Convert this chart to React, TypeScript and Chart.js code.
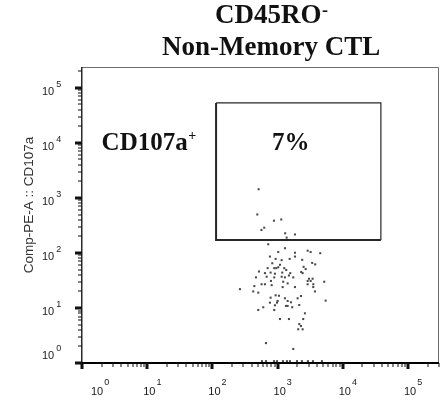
import React, { useEffect, useRef } from "react";
import { Chart, registerables } from "chart.js";
Chart.register(...registerables);

// ---- texts ----
const titleLines = ["CD45RO", "Non-Memory CTL"];
const titleSup = "-";
const yAxisTitle = "Comp-PE-A :: CD107a";
const gateName = "CD107a";
const gateNameSup = "+";
const gatePercent = "7%";

// ---- axes (log10 decades) ----
const tickExponents = [0, 1, 2, 3, 4, 5];
const minorMultipliers = [2, 3, 4, 5, 6, 7, 8, 9];
const xMin = 1;
const xMax = 300000;
const yMin = 1;
const yMax = 240000;

// ---- gate (CD45RO x, CD107a y) ----
const gateX = [114, 38500, 38500, 114, 114];
const gateY = [53300, 53300, 172, 172, 53300];

// annotation anchors in data units
const gateNameAt = { x: 2, y: 7500 };
const gatePercentAt = { x: 1600, y: 7500 };

// ---- events inside the CD107a+ gate ----
const posX = [513, 489, 881, 1140, 625, 566, 1310, 1850, 1380];
const posY = [1440, 501, 386, 406, 288, 262, 228, 217, 190];

// ---- events below the gate ----
const negX = [
  719, 1300, 1025, 1850, 2900, 3220, 4520, 764, 1850, 935,
  1156, 1535, 2390, 830, 1089, 3400, 3780, 705, 890, 955,
  1025, 1268, 1359, 2512, 2700, 519, 641, 783, 912, 1180,
  1567, 2307, 2427, 467, 681, 890, 1156, 1297, 1496, 1742,
  3033, 3451, 265, 440, 570, 641, 813, 792, 1222, 1197,
  1429, 1849, 2897, 3220, 2897, 3532, 3532, 5200, 424, 506,
  935, 1050, 783, 1297, 2286, 2032, 3750, 1004, 979, 1429,
  1607, 764, 912, 1346, 1429, 1679, 2153, 5470, 604, 506,
  890, 2630, 1089, 1496, 2477, 2153, 2286, 2075, 2427, 664,
  1742,
];
const negY = [
  144, 122, 104, 101, 110, 104, 99, 86, 86, 78,
  74, 78, 75, 65, 61, 66, 62, 53, 53, 53,
  55, 53, 49, 56, 51, 46, 43, 44, 42, 44,
  43, 45, 43, 36, 37, 36, 37, 36, 39, 36,
  34, 34, 22, 25, 27, 27, 26, 31, 30, 24,
  28, 24, 31, 31, 27, 27, 24, 30, 20, 19,
  17, 16.7, 15.4, 15, 16.5, 15, 20, 13.4, 12.5, 13.4,
  12.7, 12.5, 11.2, 10.9, 10.9, 10.3, 11.3, 13.6, 10.3, 9.2,
  9.2, 8.0, 6.3, 6.3, 6.3, 5.1, 4.7, 4.1, 4.1, 2.3,
  1.8,
];

// ---- events piled on the baseline ----
const baseX = [577, 664, 881, 979, 1210, 1393, 1549, 1986, 2366, 2926, 3491, 4797];
const baseY = [1.08, 1.08, 1.08, 1.08, 1.08, 1.08, 1.08, 1.08, 1.08, 1.08, 1.08, 1.08];

const pts = (xs: number[], ys: number[]) => xs.map((x, i) => ({ x, y: ys[i] }));

const SERIF = '"Liberation Serif", "Times New Roman", serif';
const SANS = '"Liberation Sans", Arial, sans-serif';

const decorPlugin = {
  id: "flowDecor",
  afterDraw(chart: any) {
    const { ctx, chartArea: a, scales } = chart;
    const xs = scales.x;
    const ys = scales.y;
    ctx.save();

    // frame
    ctx.strokeStyle = "#6e6e6e";
    ctx.lineWidth = 1;
    ctx.beginPath();
    ctx.moveTo(a.right - 0.5, a.bottom);
    ctx.lineTo(a.right - 0.5, a.top + 0.5);
    ctx.lineTo(a.left, a.top + 0.5);
    ctx.stroke();
    ctx.fillStyle = "#2a2a2a";
    ctx.fillRect(a.left - 1, a.top, 1.5, a.bottom - a.top);
    ctx.fillStyle = "#000";
    ctx.fillRect(a.left - 1, a.bottom - 1, a.right - a.left + 1, 2);

    // ticks
    ctx.fillStyle = "#111";
    for (const e of tickExponents) {
      const mults = [1, ...minorMultipliers];
      for (const m of mults) {
        const v = m * Math.pow(10, e);
        const major = m === 1;
        if (v >= xMin && v <= xMax) {
          const px = Math.round(xs.getPixelForValue(v));
          if (major) ctx.fillRect(px - 1.5, a.bottom, 3, 6);
          else ctx.fillRect(px - 0.5, a.bottom, 1, 4);
        }
        if (v >= yMin && v <= yMax) {
          const py = Math.round(ys.getPixelForValue(v));
          if (major) ctx.fillRect(a.left - 7, py - 1.5, 7, 3);
          else ctx.fillRect(a.left - 4, py - 0.5, 4, 1);
        }
      }
    }

    // tick labels
    ctx.fillStyle = "#1a1a1a";
    ctx.textAlign = "left";
    ctx.textBaseline = "alphabetic";
    const baseFont = "11px " + SANS;
    const supFont = "9px " + SANS;
    ctx.font = baseFont;
    const w10 = ctx.measureText("10").width;
    for (const e of tickExponents) {
      const px = xs.getPixelForValue(Math.pow(10, e));
      const sx = Math.max(px - 4, a.left + 9);
      ctx.font = baseFont;
      ctx.fillText("10", sx, a.bottom + 32);
      ctx.font = supFont;
      ctx.fillText(String(e), sx + w10 + 1, a.bottom + 22);

      const py = ys.getPixelForValue(Math.pow(10, e));
      const by = Math.min(py + 7, a.bottom - 4);
      ctx.font = baseFont;
      ctx.fillText("10", 42, by);
      ctx.font = supFont;
      ctx.fillText(String(e), 42 + w10 + 2, by - 8);
    }

    // y axis title
    ctx.save();
    ctx.translate(29, (a.top + a.bottom) / 2 - 10);
    ctx.rotate(-Math.PI / 2);
    ctx.textAlign = "center";
    ctx.textBaseline = "middle";
    ctx.font = "13.5px " + SANS;
    ctx.fillStyle = "#333";
    ctx.fillText(yAxisTitle, 0, 0);
    ctx.restore();

    // title
    ctx.fillStyle = "#111";
    const cx = a.left + (a.right - a.left) * 0.53;
    ctx.font = "bold 27px " + SERIF;
    const w1 = ctx.measureText(titleLines[0]).width;
    ctx.font = "bold 18px " + SERIF;
    const ws = ctx.measureText(titleSup).width;
    const sx1 = cx - (w1 + ws) / 2;
    ctx.font = "bold 27px " + SERIF;
    ctx.textAlign = "left";
    ctx.fillText(titleLines[0], sx1, 23);
    ctx.font = "bold 18px " + SERIF;
    ctx.fillText(titleSup, sx1 + w1 + 0.5, 16);
    ctx.font = "bold 27px " + SERIF;
    ctx.textAlign = "center";
    ctx.fillText(titleLines[1], cx, 55);

    // gate annotations
    ctx.font = "bold 25px " + SERIF;
    ctx.textAlign = "left";
    const gx = xs.getPixelForValue(gateNameAt.x);
    const gy = ys.getPixelForValue(gateNameAt.y);
    ctx.fillText(gateName, gx, gy);
    const wg = ctx.measureText(gateName).width;
    ctx.font = "bold 14px " + SERIF;
    ctx.fillText(gateNameSup, gx + wg + 0.5, gy - 10);
    ctx.font = "bold 25px " + SERIF;
    ctx.textAlign = "center";
    ctx.fillText(gatePercent, xs.getPixelForValue(gatePercentAt.x), ys.getPixelForValue(gatePercentAt.y));

    ctx.restore();
  },
};

export default function App() {
  const ref = useRef<HTMLCanvasElement | null>(null);
  useEffect(() => {
    document.body.style.margin = "0";
    if (!ref.current) return;
    const dotStyle = {
      pointStyle: "rect",
      pointRadius: 1.45,
      pointBorderWidth: 0,
      pointBackgroundColor: "#4a4a4a",
      showLine: false,
    };
    const chart = new Chart(ref.current, {
      type: "scatter",
      data: {
        datasets: [
          { label: "CD107a+", data: pts(posX, posY), ...dotStyle } as any,
          { label: "CD107a-", data: pts(negX, negY), ...dotStyle } as any,
          { label: "baseline", data: pts(baseX, baseY), ...dotStyle } as any,
          {
            label: "gate",
            type: "line",
            data: pts(gateX, gateY),
            borderColor: "#262626",
            pointRadius: 0,
            fill: false,
            tension: 0,
            showLine: true,
            segment: {
              borderWidth: (c: any) => (c.p0DataIndex >= 2 ? 2 : 1.2),
            },
          } as any,
        ],
      },
      options: {
        animation: false,
        responsive: false,
        devicePixelRatio: 1,
        events: [],
        layout: { padding: { top: 67, right: 6, left: 0, bottom: 0 } },
        plugins: { legend: { display: false }, tooltip: { enabled: false }, title: { display: false } },
        scales: {
          x: {
            type: "logarithmic",
            min: xMin,
            max: xMax,
            grid: { display: false },
            border: { display: false },
            ticks: { display: false },
            afterFit: (s: any) => {
              s.height = 41;
            },
          },
          y: {
            type: "logarithmic",
            min: yMin,
            max: yMax,
            grid: { display: false },
            border: { display: false },
            ticks: { display: false },
            afterFit: (s: any) => {
              s.width = 82;
            },
          },
        },
      } as any,
      plugins: [decorPlugin],
    });
    return () => chart.destroy();
  }, []);
  return <canvas ref={ref} width={445} height={404} style={{ display: "block" }} />;
}
